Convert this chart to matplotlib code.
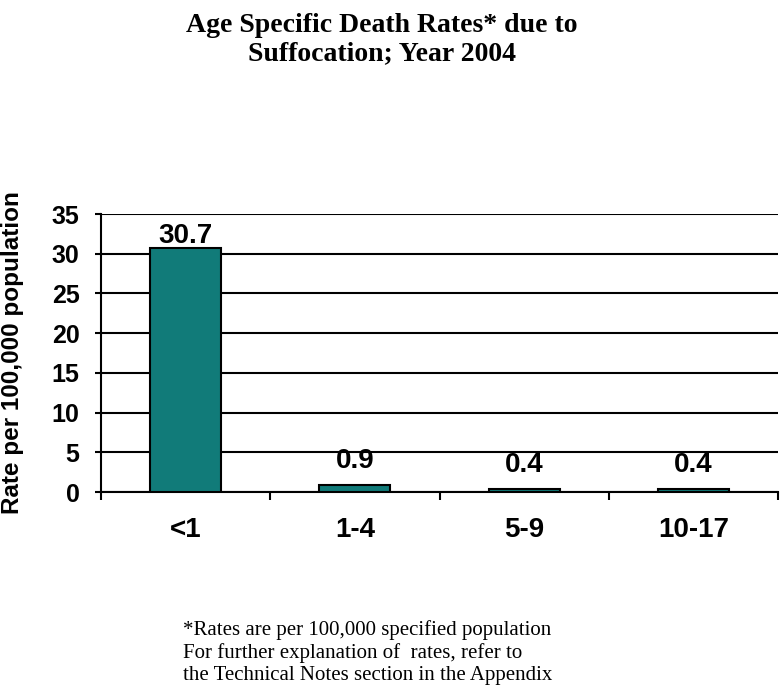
import matplotlib.pyplot as plt

# Age specific death rates due to suffocation, 2004
ages = ["<1", "1-4", "5-9", "10-17"]
rates = [30.7, 0.9, 0.4, 0.4]

fig = plt.figure(figsize=(7.8, 6.96), dpi=100)
ax = fig.add_axes([101/780, 1 - 492/696, 677/780, 278/696])

x = range(len(ages))
ax.bar(x, rates, width=0.42, color="#117B79", edgecolor="black", linewidth=1.5, zorder=3)

# value labels above the bars (the tall one sits close to its bar)
for i, v in enumerate(rates):
    off = 4 if v > 30 else 12
    ax.annotate(str(v), (i, v), xytext=(0, off), textcoords="offset points",
                ha="center", va="baseline", fontsize=20, fontweight="bold",
                family="Liberation Sans")

ax.set_ylim(0, 35)
ax.set_yticks(range(0, 36, 5))
ax.set_xlim(-0.5, 3.5)
ax.set_xticks(list(x))
ax.set_xticklabels(ages)
ax.set_xticks([-0.5, 0.5, 1.5, 2.5, 3.5], minor=True)
ax.tick_params(axis="x", which="major", length=0, pad=18)
ax.tick_params(axis="x", which="minor", length=6, width=1.5, direction="out")
ax.tick_params(axis="y", length=4.5, width=1.5, direction="out", pad=11)
for lab in ax.get_xticklabels():
    lab.set_fontsize(20)
    lab.set_fontweight("bold")
    lab.set_family("Liberation Sans")
for lab in ax.get_yticklabels():
    lab.set_fontsize(18)
    lab.set_fontweight("bold")
    lab.set_family("Liberation Sans")

ax.yaxis.grid(True, color="black", linewidth=1.5, zorder=0)
ax.spines["top"].set_visible(False)
ax.spines["right"].set_visible(False)
ax.spines["left"].set_linewidth(1.5)
ax.spines["bottom"].set_linewidth(1.5)

fig.text(13/780, 1 - 353/696, "Rate per 100,000 population", rotation=90,
         ha="center", va="center", fontsize=17.5, fontweight="bold",
         family="Liberation Sans")

title_font = dict(ha="center", va="baseline", fontsize=20, fontweight="bold",
                  family="Liberation Serif")
fig.text(382/780, 1 - 32/696, "Age Specific Death Rates* due to", **title_font)
fig.text(382/780, 1 - 60/696, "Suffocation; Year 2004", **title_font)

fig.text(183/780, 1 - 620/696,
         "*Rates are per 100,000 specified population\n"
         "For further explanation of  rates, refer to\n"
         "the Technical Notes section in the Appendix",
         ha="left", va="top", fontsize=15, family="Liberation Serif", linespacing=1.2)

fig.savefig("out.png", dpi=100)
